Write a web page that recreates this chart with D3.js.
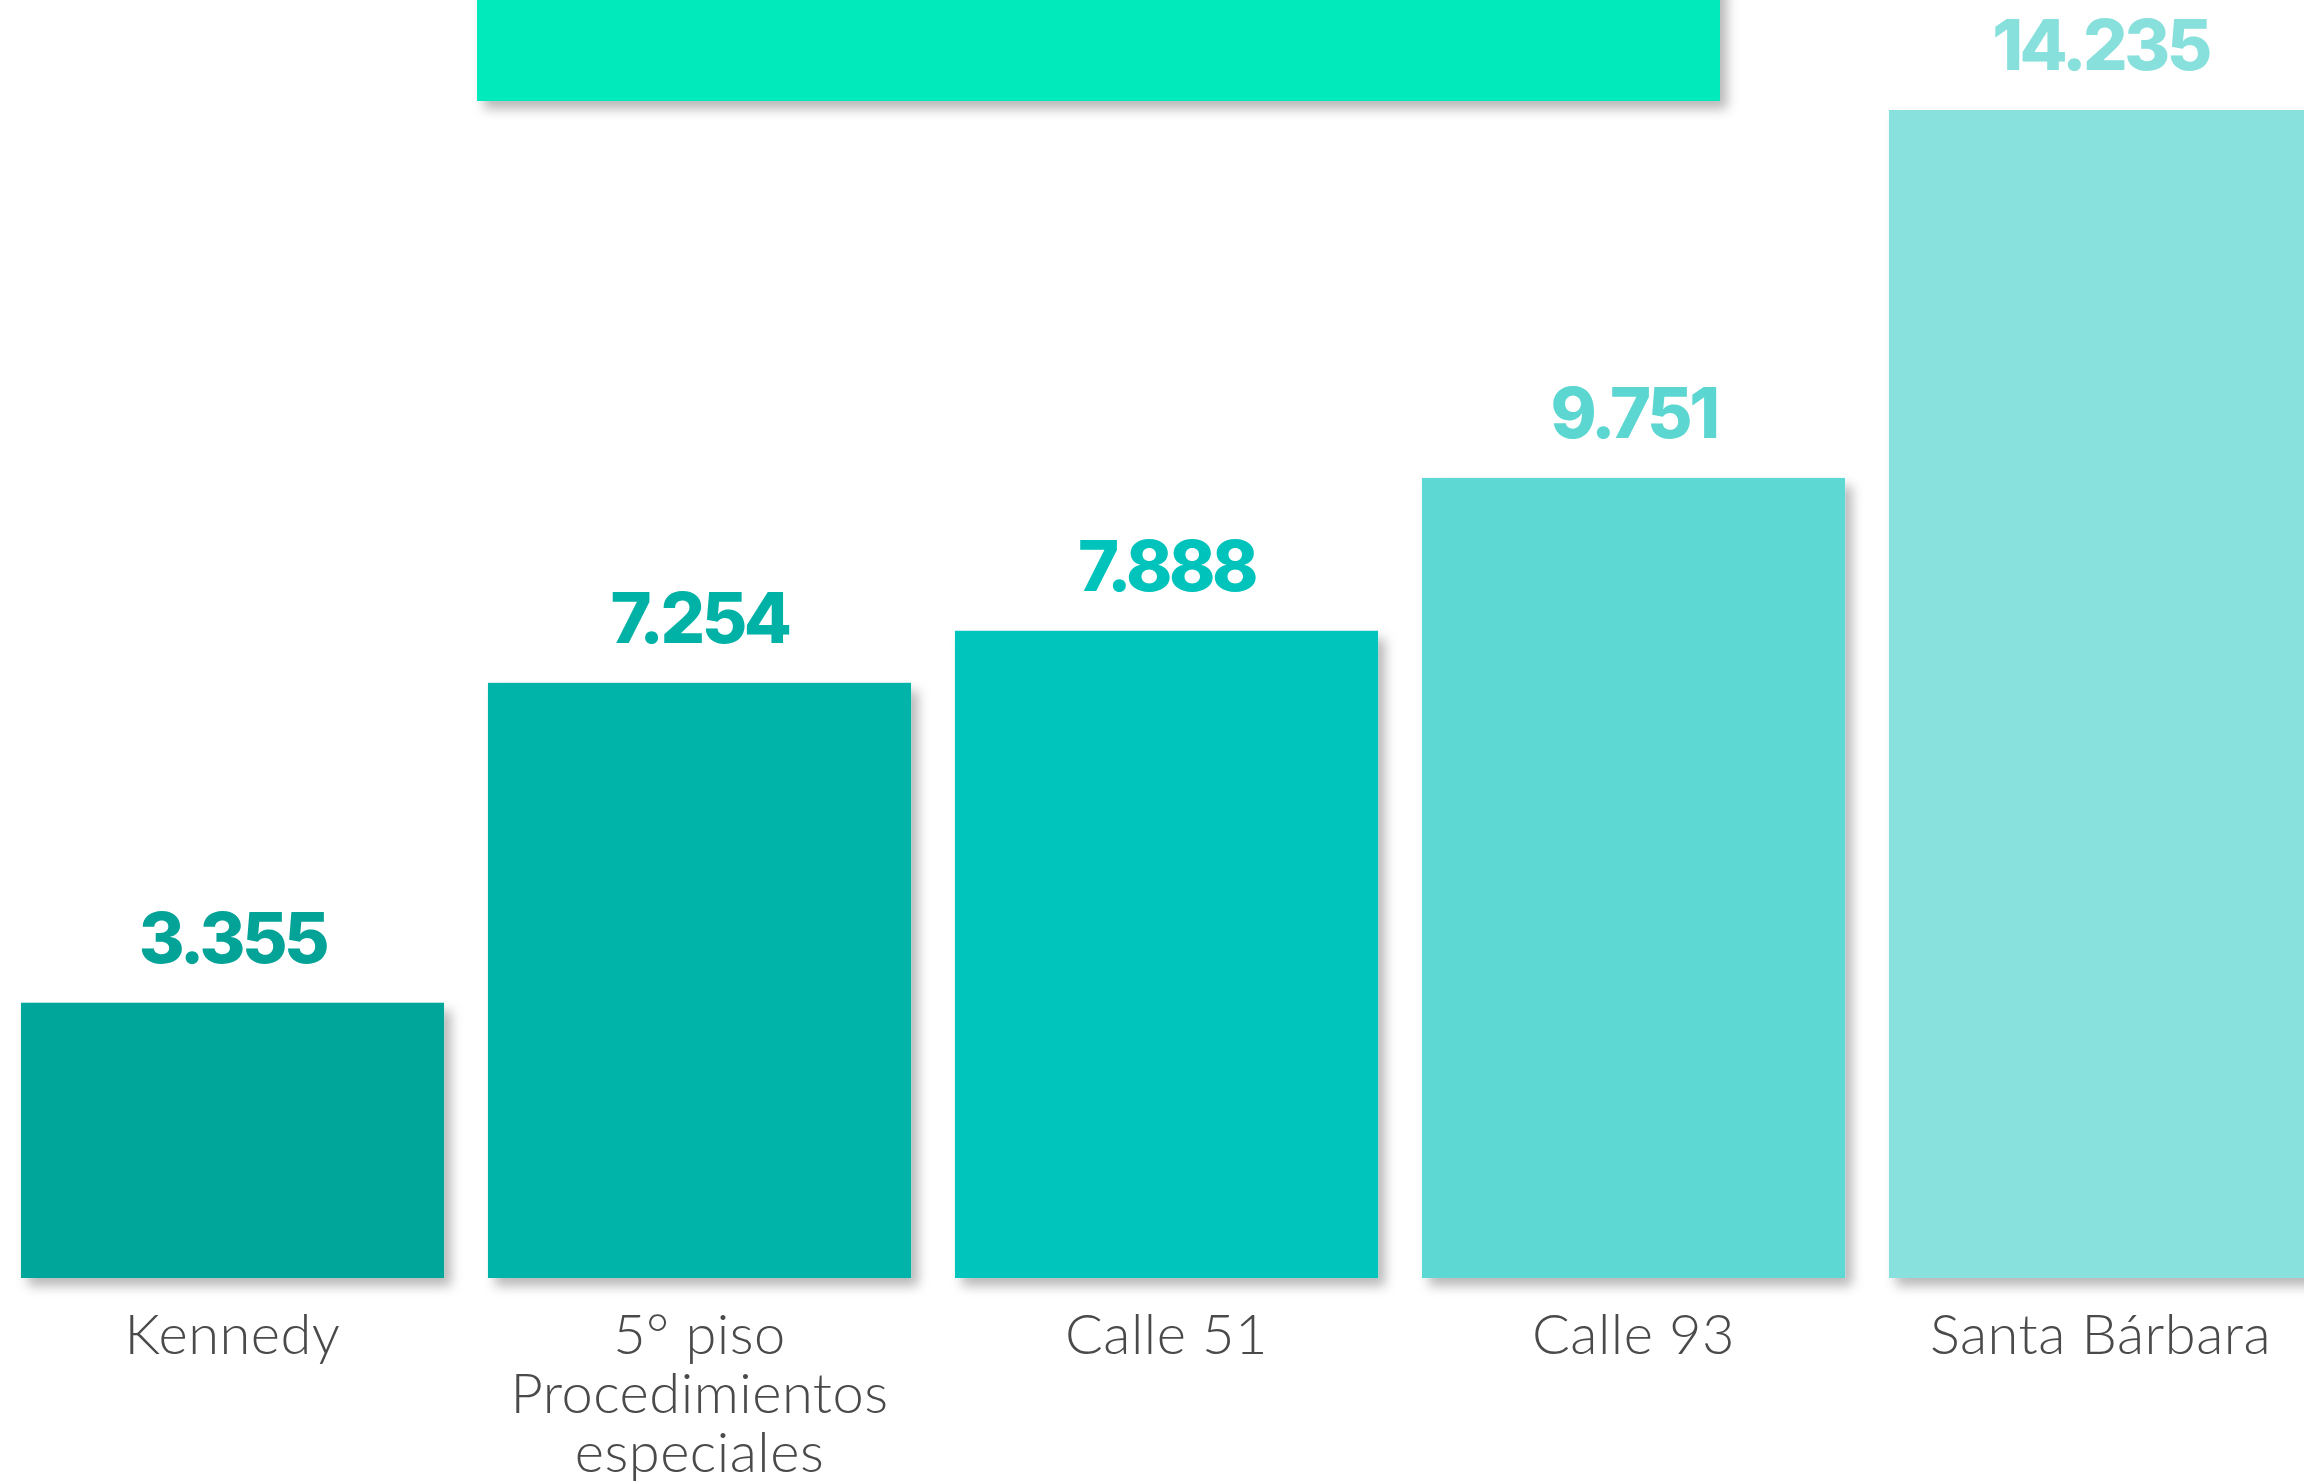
<!DOCTYPE html>
<html>
<head>
<meta charset="utf-8">
<script src="https://cdn.jsdelivr.net/npm/d3@7"></script>
<style>
  html, body { margin: 0; padding: 0; background: #ffffff; overflow: hidden; }
  svg { display: block; }
</style>
</head>
<body>
<svg id="chart" width="2304" height="1481"></svg>
<script>
// ---- data ----
const categories = ["Kennedy", "5° piso\nProcedimientos\nespeciales", "Calle 51", "Calle 93", "Santa Bárbara"];
const values = [3355, 7254, 7888, 9751, 14235];
const barColors = ["#02a699", "#01b4a9", "#00c5bd", "#5dd8d2", "#89e1de"];
const labelColors = ["#03a397", "#00b2a6", "#00c4bb", "#5cd6d0", "#88e0dd"];

// ---- layout ----
const W = 2304, H = 1481;
const baseY = 1278, topY = 110;
const svg = d3.select("#chart");

const defs = svg.append("defs");
const f = defs.append("filter").attr("id", "shadow")
  .attr("x", "-10%").attr("y", "-10%").attr("width", "130%").attr("height", "130%");
f.append("feDropShadow").attr("dx", 7).attr("dy", 8).attr("stdDeviation", 6)
  .attr("flood-color", "#000").attr("flood-opacity", 0.28);

// decorative header block (cut off at top)
svg.append("rect")
  .attr("x", 477).attr("y", -20).attr("width", 1243).attr("height", 121)
  .attr("fill", "#03eabb").attr("filter", "url(#shadow)");

const step = 467;
const x = d3.scaleBand()
  .domain(categories)
  .range([-1, -1 + step * categories.length])
  .paddingInner(0.094)
  .paddingOuter(0.047);

const y = d3.scaleLinear()
  .domain([0, d3.max(values)])
  .range([baseY, topY]);

const locale = d3.formatLocale({ decimal: ",", thousands: ".", grouping: [3], currency: ["$", ""] });
const fmt = locale.format(",d");

const data = categories.map((c, i) => ({ c, v: values[i], i }));

svg.append("g").selectAll("rect.bar")
  .data(data).join("rect")
  .attr("class", "bar")
  .attr("x", d => x(d.c))
  .attr("y", d => y(d.v))
  .attr("width", x.bandwidth())
  .attr("height", d => baseY - y(d.v))
  .attr("fill", d => barColors[d.i])
  .attr("filter", "url(#shadow)");

svg.append("g").selectAll("text.val")
  .data(data).join("text")
  .attr("class", "val")
  .attr("x", d => x(d.c) + x.bandwidth() / 2)
  .attr("y", d => y(d.v) - 40)
  .attr("text-anchor", "middle")
  .attr("font-family", "Inter, 'Noto Sans', sans-serif")
  .attr("font-weight", 800)
  .attr("font-size", 70)
  .attr("letter-spacing", -3.5)
  .attr("fill", d => labelColors[d.i])
  .text(d => fmt(d.v));

const cat = svg.append("g").selectAll("text.cat")
  .data(data).join("text")
  .attr("class", "cat")
  .attr("x", d => x(d.c) + x.bandwidth() / 2)
  .attr("y", 1354)
  .attr("text-anchor", "middle")
  .attr("font-family", "Lato, 'Noto Sans', sans-serif")
  .attr("font-weight", 300)
  .attr("font-size", 56)
  .attr("letter-spacing", 0.5)
  .attr("fill", "#4a4a4a");

cat.selectAll("tspan")
  .data(d => d.c.split("\n").map(t => ({ t, x: x(d.c) + x.bandwidth() / 2 })))
  .join("tspan")
  .attr("x", t => t.x)
  .attr("dy", (t, i) => i === 0 ? 0 : 59)
  .text(t => t.t);
</script>
</body>
</html>
